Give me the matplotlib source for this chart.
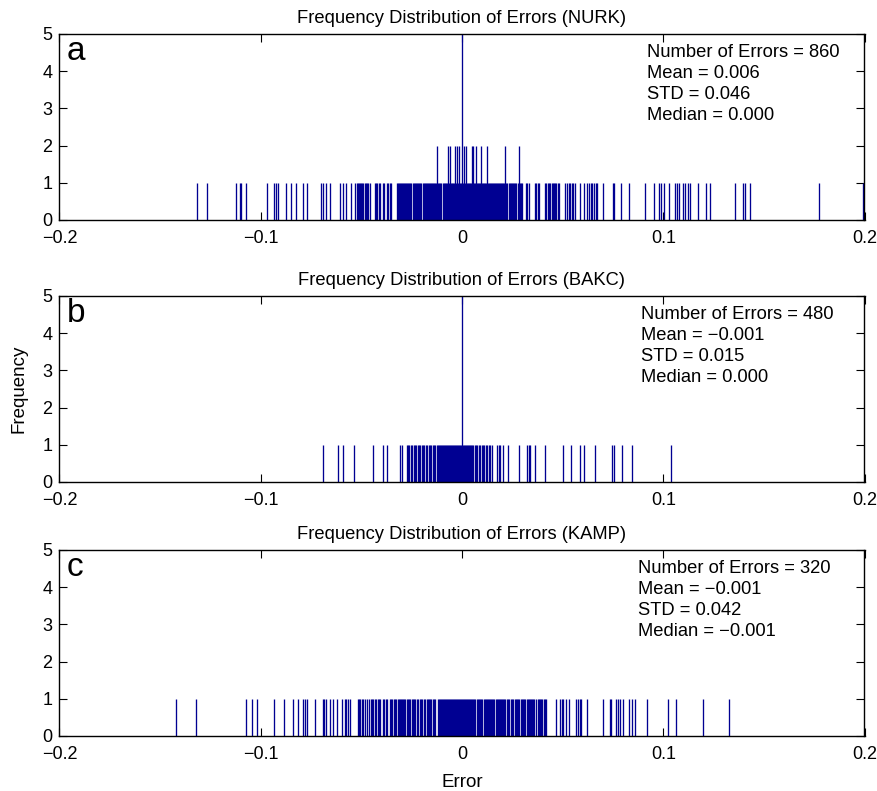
import numpy as np
import matplotlib
matplotlib.use("Agg")
import matplotlib.pyplot as plt

plt.rcParams['font.family'] = ['Liberation Sans', 'DejaVu Sans']

# bin width of the frequency plot; errors are given as bin indices (error = k * BIN)
BIN = 0.0005

stations = ['NURK', 'BAKC', 'KAMP']
panel_tags = ['a', 'b', 'c']
n_errors = [860, 480, 320]
means = ['0.006', '\u22120.001', '\u22120.001']
stds = ['0.046', '0.015', '0.042']
medians = ['0.000', '0.000', '\u22120.001']

# bins holding one error
ones_a = [-263, -253, -225, -221, -220, -215, -194, -187, -185, -183, -175, -170,
          -165, -158, -154, -140, -138, -135, -131, -121, -118, -115, -110, -106,
          -104, -103, -102, -101, -100, -99, -98, -96, -95, -94, -93, -91, -86,
          -85, -84, -82, -81, -79, -78, -75, -74, -72, -71, -65, -64, -63, -62,
          -61, -60, -59, -58, -57, -56, -55, -54, -53, -52, -51,
          -49, -48, -47, -46, -45, -44, -43, -42, -41, -39, -38, -37, -36, -35,
          -34, -33, -32, -31, -30, -29, -28, -27, -26, -25, -24, -23, -22, -21,
          -19, -18, -17, -16, -15, -14, -13, -12, -11, -10, -9, -8, -7, -6, -5,
          -4, -3, -2, -1, 0, 1, 2, 3, 4, 5, 6, 7, 8, 9, 10, 11, 12, 13, 14, 15,
          16, 17, 18, 19, 20, 21, 22, 23, 24, 25, 26, 27, 28, 29, 30, 31, 32, 33,
          34, 35, 36, 37, 38, 39, 40, 41, 42, 43, 44, 45, 47, 48, 49, 50, 51, 52,
          53, 54, 56, 57, 58, 59, 60,
          64, 65, 67, 73, 74, 76, 77, 82, 83, 85, 86, 87, 89, 90, 91, 92, 93, 95,
          96, 102, 104, 106, 107, 109, 110, 112, 117, 121, 124, 126, 128, 129,
          131, 133, 134, 140, 150, 151, 158, 166, 182, 191, 196, 198, 201, 206,
          212, 214, 216, 220, 222, 225, 227, 235, 242, 246, 271, 279, 281, 286,
          355, 399]
twos_a = [-25, -14, -12, -7, -5, -3, 2, 4, 10, 11, 14, 19, 25, 43, 57]
peak_a = {0: 12}

ones_b = [-138, -123, -118, -107, -88, -79, -75, -62, -60, -55, -54, -53,
          -51, -50, -48, -47, -46, -44, -43, -42, -40, -39, -38, -36, -35, -33,
          -32, -31, -29, -28, -27, -25, -24, -23, -22,
          -21, -20, -19, -18, -17, -16, -15, -14, -13, -12, -11, -10, -9, -8,
          -7, -6, -5, -4, -3, -2, -1, 0, 1, 2, 3, 4, 5, 6, 7, 8,
          9, 10, 11, 13, 14, 15, 17, 18, 20, 21, 22, 24, 25, 27, 28, 30,
          35, 37, 38, 41, 46, 57, 65, 67, 68, 73, 82, 100, 108, 117, 121, 132,
          149, 151, 159, 169, 208]
twos_b = []
peak_b = {0: 12}

ones_c = [-284, -264, -215, -209, -204, -187, -177, -168, -163, -158, -156, -154,
          -146, -138, -137, -135, -131, -128, -124, -119, -116, -115, -113, -111,
          -103, -102, -101, -99, -98, -96, -94, -92, -90, -89, -88, -86, -85,
          -83, -82, -81, -79, -78, -76, -75,
          -72, -71, -70, -68, -67, -66, -64, -63, -62, -61, -60, -59, -58, -57,
          -55, -54, -53, -52, -50, -49, -48, -47, -45, -44, -42, -41, -40,
          -38, -37, -35, -34, -33, -32, -31, -29, -28, -27,
          -24, -23, -22, -21, -20, -19, -18, -17, -16, -15, -14, -13, -12, -11,
          -10, -9, -8, -7, -6, -5, -4, -3, -2, -1, 0, 1, 2, 3, 4, 5, 6, 7, 8, 9,
          10, 11, 12, 13, 15, 16, 17, 18, 19, 20, 22, 23, 24, 25, 26, 27, 28, 29,
          30, 31, 32, 34, 35, 36, 37, 38, 39, 40, 41, 42, 43, 45, 46, 47, 49, 50,
          51, 53, 54, 55, 56, 57, 59, 60, 61, 62, 63, 65, 66, 67, 68, 69, 70, 71,
          72, 74, 76, 77, 78, 79, 80, 81, 82, 83,
          93, 97, 99, 100, 103, 106, 113, 115, 117, 118, 124, 140, 147, 148, 153,
          155, 157, 160, 166, 169, 172, 184, 205, 213, 240, 265]
twos_c = []
peak_c = {}

xticks = [-0.2, -0.1, 0, 0.1, 0.2]
xticklabels = ['\u22120.2', '\u22120.1', '0', '0.1', '0.2']
yticks = [0, 1, 2, 3, 4, 5]

panels = [(ones_a, twos_a, peak_a), (ones_b, twos_b, peak_b), (ones_c, twos_c, peak_c)]

fig = plt.figure(figsize=(8.78, 7.91), dpi=100)
W, H = 878.0, 791.0
bottoms = [220, 482, 736]   # pixel row of each x axis
ax_h = 186.0
color = '#000092'

for i, (ones, twos, peak) in enumerate(panels):
    ax = fig.add_axes([59.5 / W, (H - bottoms[i]) / H, 805 / W, ax_h / H])
    counts = {k: 1 for k in ones}
    counts.update({k: 2 for k in twos})
    counts.update(peak)
    ks = np.array(sorted(counts))
    ax.vlines(ks * BIN, 0, [counts[k] for k in ks], color=color, linewidth=0.95)

    ax.set_xlim(-0.2, 0.2)
    ax.set_ylim(0, 5)
    ax.set_xticks(xticks)
    ax.set_xticklabels(xticklabels)
    ax.set_yticks(yticks)
    ax.tick_params(direction='in', length=5.8, width=0.8, top=True, right=True,
                   labelsize=13, pad=7)
    ax.tick_params(axis='y', pad=5)
    for s in ax.spines.values():
        s.set_linewidth(1.0)
    ax.set_title('Frequency Distribution of Errors (%s)' % stations[i],
                 fontsize=13.2, pad=8)

    ax.text(0.009, 0.862, panel_tags[i], transform=ax.transAxes, fontsize=24,
            va='baseline', ha='left')

    lines = ['Number of Errors = %d' % n_errors[i],
             'Mean = ' + means[i],
             'STD = ' + stds[i],
             'Median = ' + medians[i]]
    x0 = [0.730, 0.722, 0.719][i]
    for j, t in enumerate(lines):
        ax.text(x0, 0.879 - j * 0.1145, t, transform=ax.transAxes, fontsize=13.2,
                va='baseline', ha='left')

fig.text(19 / W, 1 - 388.5 / H, 'Frequency', rotation=90, fontsize=13.5,
         ha='center', va='center')
fig.text(462 / W, 1 - 787 / H, 'Error', fontsize=13.5, ha='center', va='baseline')

fig.savefig('out.png', dpi=100)
